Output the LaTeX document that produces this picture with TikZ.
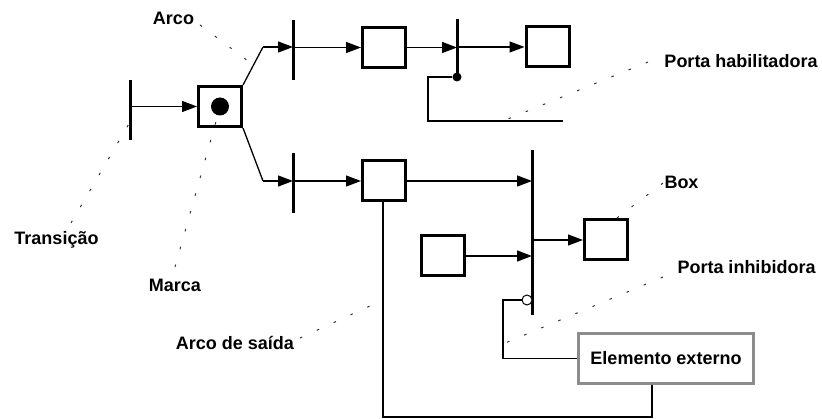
\documentclass[tikz,border=0pt]{standalone}
\usepackage{fontspec}
\setmainfont{Liberation Sans}
\usetikzlibrary{arrows.meta}
\begin{document}
\begin{tikzpicture}[x=1pt,y=-1pt,
  place/.style={draw,line width=3pt,minimum width=43pt,minimum height=40pt,inner sep=0pt},
  bar/.style={fill=black,minimum width=3pt,minimum height=#1,inner sep=0pt},
  wire/.style={line width=1.3pt},
  arc/.style={line width=1.3pt,-{Triangle[length=15pt,width=11pt]}},
  leader/.style={line width=1pt,black!80,dash pattern=on 2.5pt off 16pt},
  lbl/.style={font=\bfseries\fontsize{18}{21}\selectfont,inner sep=0pt},
  ext/.style={draw=black!45,line width=3pt,fill=white,minimum width=175pt,minimum height=50pt,
    inner sep=0pt,font=\bfseries\fontsize{18}{21}\selectfont}]
\useasboundingbox (0,0) rectangle (822,419);

% transitions (bars)
\node[bar=60pt]  (t0) at (130,110)   {};
\node[bar=60pt]  (t1) at (293,50)    {};
\node[bar=58pt]  (t2) at (457,48)    {};
\node[bar=60pt]  (t3) at (293,183)   {};
\node[bar=165pt] (T)  at (532,232.5) {};

% places (boxes)
\node[place] (m)  at (220,106.5) {};
\node[circle,fill,minimum size=18pt,inner sep=0pt] (tok) at (m) {};
\node[place] (b1) at (384,47.5)  {};
\node[place] (b2) at (547.5,47)  {};
\node[place] (b3) at (384,181)   {};
\node[place] (b4) at (443,256)   {};
\node[place] (b5) at (606,240)   {};

% external element
\node[ext] (E) at (666,358.5) {Elemento externo};

% gates
\node[circle,fill,minimum size=9pt,inner sep=0pt] (en) at (457,77) {};
\node[circle,draw,fill=white,line width=1pt,minimum size=10pt,inner sep=0pt] (inh) at (527,300) {};

% bend points
\coordinate (k1) at (263,47);
\coordinate (k2) at (263,181);
\coordinate (fc) at (428,121);
\coordinate (fend) at (563,121);
\coordinate (ic) at (503,358.5);
\coordinate (o1) at (652,417);
\coordinate (o2) at (383,417);

% arcs
\draw[arc] (t0 |- m) -- (m);
\draw[wire] (m.north east) -- (k1);
\draw[arc] (k1) -- (t1 |- k1);
\draw[arc] (t1 |- b1) -- (b1);
\draw[arc] (b1) -- (t2 |- b1);
\draw[arc] (t2 |- b2) -- (b2);
\draw[wire] (m.south east) -- (k2);
\draw[arc] (k2) -- (t3 |- k2);
\draw[arc] (t3 |- b3) -- (b3);
\draw[arc] (b3) -- (T |- b3);
\draw[arc] (b4) -- (T |- b4);
\draw[arc] (T |- b5) -- (b5);

% enabling gate
\draw[wire] (en) -| (fc) -- (fend);
% inhibitor gate
\draw[wire] (inh) -| (ic) -- (E.west);
% output arc from the external element
\draw[wire] (E.south -| o1) -- (o1) -- (o2) -- (b3.south -| o2);

% labels
\node[lbl] (lArco)  at (173.5,18)  {Arco};
\node[lbl] (lTrans) at (56.5,240)  {Transição};
\node[lbl] (lMarca) at (175,285)   {Marca};
\node[lbl] (lSaida) at (235,343)   {Arco de saída};
\node[lbl] (lBox)   at (681.5,182) {Box};
\node[lbl] (lInh)   at (746.5,267) {Porta inhibidora};
\node[lbl] (lHab)   at (741,61)    {Porta habilitadora};

% leader lines
\coordinate (a1) at (200,25);  \coordinate (a2) at (252,64);
\coordinate (tr1) at (71,223); \coordinate (tr2) at (130,122);
\coordinate (mk1) at (175,267); \coordinate (mk2) at (217,118);
\coordinate (s1) at (300,338); \coordinate (s2) at (383,300);
\coordinate (bx1) at (663,183); \coordinate (bx2) at (617,218);
\coordinate (ih1) at (663,277); \coordinate (ih2) at (503,344);
\coordinate (hb1) at (648,62); \coordinate (hb2) at (503,121);
\draw[leader] (a1) -- (a2);
\draw[leader] (tr1) -- (tr2);
\draw[leader] (mk1) -- (mk2);
\draw[leader] (s1) -- (s2);
\draw[leader] (bx1) -- (bx2);
\draw[leader] (ih1) -- (ih2);
\draw[leader] (hb1) -- (hb2);
\end{tikzpicture}
\end{document}
